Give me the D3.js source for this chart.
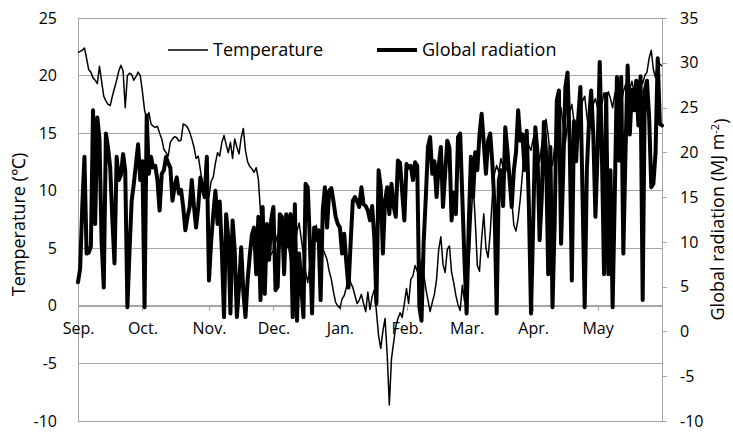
<!DOCTYPE html>
<html>
<head>
<meta charset="utf-8">
<script src="https://cdn.jsdelivr.net/npm/d3@7"></script>
<style>
  body { margin: 0; background: #fff; }
  text { font-family: "Open Sans", sans-serif; fill: #000; }
</style>
</head>
<body>
<svg id="chart" width="733" height="433"></svg>
<script>
// Daily series, 1 Sep – 31 May
const firstDay = new Date(2014, 8, 1);
const monthLabels = ["Sep.", "Oct.", "Nov.", "Dec.", "Jan.", "Feb.", "Mar.", "Apr.", "May"];
const tempTicks = [-10, -5, 0, 5, 10, 15, 20, 25];
const radTicks = [-10, -5, 0, 5, 10, 15, 20, 25, 30, 35];
const seriesNames = ["Temperature", "Global radiation"];

// Daily mean air temperature (°C)
const temperature = [
  22.0, 22.1, 22.2, 22.4, 21.5, 20.5, 20.3, 19.8, 19.6, 19.3, 20.8, 19.5, 18.2, 17.8, 17.5, 17.4, 18.2, 18.9, 19.6, 20.4, 20.9, 20.4, 17.2, 20.0, 20.2, 20.1, 19.6, 19.9, 20.3, 20.0,
  18.6, 17.0, 16.2, 16.8, 15.8, 15.6, 15.5, 15.6, 15.0, 14.5, 13.6, 13.3, 13.0, 14.2, 14.5, 14.7, 14.6, 14.3, 14.4, 15.8, 15.7, 15.5, 15.1, 14.5, 13.8, 12.8, 13.0, 11.8, 10.5, 9.8, 10.2,
  9.5, 10.8, 11.2, 12.4, 13.3, 13.0, 14.2, 14.8, 14.0, 13.3, 14.2, 12.8, 14.5, 13.8, 13.2, 14.6, 15.4, 13.5, 12.5, 12.1, 11.9, 11.6, 12.0, 11.0, 8.1, 6.7, 5.8, 4.6, 4.2, 4.5,
  4.8, 5.5, 6.2, 5.0, 6.8, 7.5, 6.0, 5.2, 4.0, 3.2, 5.0, 6.5, 7.2, 5.8, 4.5, 3.0, 2.0, 3.5, 5.2, 6.5, 7.0, 5.5, 4.2, 5.0, 4.5, 4.0, 3.0, 2.3, 1.2, 0.3, 0.0,
  -0.2, 0.6, 0.9, 1.6, 2.9, 2.0, 1.6, 0.9, 0.2, 0.5, 1.0, 0.2, -0.5, 1.2, -0.3, 0.8, 1.4, -0.5, -2.6, -3.7, -2.2, -1.1, -4.2, -8.6, -4.6, -3.2, -1.8, -1.1, -0.6, -1.0, 0.2,
  1.5, 0.2, 2.3, 2.6, 3.5, 3.0, 2.5, 4.0, 2.8, 1.5, 0.5, -0.5, 0.3, 1.0, 2.3, 4.9, 6.0, 3.6, 2.9, 4.9, 5.2, 2.9, 2.0, 0.9, 0.1, -0.4, 1.8, 0.4,
  2.3, 3.3, 7.0, 10.7, 7.5, 3.5, 3.0, 5.8, 8.0, 5.0, 4.2, 6.4, 9.5, 11.5, 12.2, 11.6, 12.8, 12.0, 11.5, 12.3, 11.0, 9.2, 7.0, 6.5, 7.6, 9.3, 11.5, 13.6, 14.6, 13.9, 13.5,
  14.5, 15.2, 13.8, 12.5, 14.0, 15.5, 16.2, 14.8, 13.0, 12.2, 13.8, 15.0, 16.5, 17.2, 15.6, 14.2, 15.8, 16.8, 17.5, 16.0, 14.5, 15.2, 16.8, 17.8, 18.2, 16.5, 15.0, 16.2, 17.5, 18.0,
  17.2, 18.0, 17.5, 18.5, 17.8, 18.6, 18.0, 17.2, 18.4, 19.0, 18.2, 17.5, 18.6, 19.2, 18.0, 18.8, 19.5, 18.6, 18.8, 19.1, 19.8, 19.3, 20.0, 20.3, 21.5, 22.2, 20.5, 19.8, 21.4, 21.0, 20.8
];

// Daily global radiation (MJ m-2)
const radiation = [
  5.5, 7.0, 14.0, 19.5, 8.7, 8.8, 9.5, 24.7, 12.0, 23.9, 21.5, 10.0, 4.9, 22.1, 20.5, 18.3, 12.5, 7.6, 19.5, 16.9, 17.5, 19.8, 18.0, 2.7, 9.0, 14.6, 16.5, 18.7, 20.9, 16.9,
  19.0, 2.7, 24.1, 17.6, 19.5, 18.3, 18.5, 16.9, 13.5, 17.6, 18.0, 19.5, 18.8, 18.3, 14.6, 16.2, 17.2, 15.4, 15.8, 13.9, 11.3, 12.8, 13.9, 16.9, 14.0, 11.6, 13.9, 17.2, 16.0, 15.0, 19.5,
  5.7, 10.0, 13.1, 15.7, 12.0, 14.5, 9.0, 1.6, 13.1, 10.5, 2.0, 12.4, 9.0, 1.6, 5.0, 9.4, 4.5, 1.6, 5.7, 8.5, 10.8, 11.6, 6.4, 12.8, 3.5, 13.9, 4.2, 12.0, 8.0, 12.5,
  13.9, 4.6, 5.0, 13.1, 12.8, 6.4, 13.1, 9.5, 13.1, 1.6, 14.2, 1.2, 8.7, 5.0, 1.6, 16.5, 16.1, 10.0, 2.0, 11.6, 10.2, 11.3, 3.5, 13.5, 16.1, 11.6, 15.7, 16.0, 14.5, 12.8, 12.0,
  11.6, 8.7, 10.9, 7.6, 4.9, 10.0, 14.6, 15.0, 14.5, 13.9, 16.1, 14.2, 14.0, 13.5, 12.4, 14.0, 10.5, 3.1, 18.0, 16.1, 8.7, 14.6, 16.1, 13.1, 16.5, 14.0, 12.8, 19.1, 18.8, 15.5, 12.4,
  18.7, 18.3, 18.5, 16.9, 18.9, 18.5, 2.7, 1.2, 10.0, 15.0, 20.6, 21.7, 17.6, 19.0, 15.0, 18.5, 20.6, 13.9, 17.6, 21.3, 20.5, 12.4, 15.5, 13.1, 21.7, 22.1, 15.0, 8.0,
  2.0, 12.0, 19.5, 15.0, 20.0, 18.0, 22.0, 24.3, 21.0, 17.6, 21.3, 22.1, 18.7, 14.0, 2.0, 16.9, 18.0, 14.0, 22.8, 20.2, 17.0, 13.9, 18.0, 20.0, 24.7, 21.3, 22.0, 18.0, 22.4, 14.0, 2.0,
  12.0, 22.8, 20.0, 10.2, 15.0, 23.4, 20.0, 6.4, 20.6, 2.7, 12.0, 25.8, 26.9, 9.8, 18.0, 27.3, 28.9, 21.3, 5.7, 23.5, 19.0, 23.9, 27.3, 15.0, 2.7, 18.0, 23.5, 26.9, 22.0, 12.8,
  20.0, 30.1, 20.0, 6.4, 26.5, 6.4, 18.0, 2.7, 15.0, 28.4, 19.1, 28.4, 8.7, 20.0, 29.7, 22.0, 27.0, 24.7, 28.0, 23.0, 28.5, 3.5, 26.9, 28.0, 24.0, 16.1, 16.5, 20.0, 30.5, 23.2, 23.0
];

const W = 733, H = 433;
const plot = { left: 78, right: 662, top: 18, bottom: 421 };
const gridColor = "#a6a6a6";
const tickFont = "16px";
const fmt = d => String(d);   // plain hyphen-minus for negative ticks

const dates = temperature.map((_, i) => d3.timeDay.offset(firstDay, i));
const rows = dates.map((d, i) => ({ date: d, t: temperature[i], r: radiation[i] }));

const x = d3.scaleTime().domain([dates[0], dates[dates.length - 1]]).range([plot.left, plot.right]);
const yT = d3.scaleLinear().domain([-10, 25]).range([plot.bottom, plot.top]);
const yR = d3.scaleLinear().domain([-10, 35]).range([plot.bottom, plot.top]);

const svg = d3.select("#chart");
svg.append("rect").attr("width", W).attr("height", H).attr("fill", "#fff");

// horizontal gridlines on the temperature scale
svg.append("g").selectAll("line").data(tempTicks).join("line")
  .attr("x1", plot.left).attr("x2", plot.right)
  .attr("y1", d => yT(d)).attr("y2", d => yT(d))
  .attr("stroke", gridColor).attr("stroke-width", 1)
  .attr("shape-rendering", "crispEdges");

// left axis (temperature)
const leftAxis = svg.append("g").attr("transform", `translate(${plot.left},0)`)
  .call(d3.axisLeft(yT).tickValues(tempTicks).tickSize(0).tickPadding(21).tickFormat(fmt));
leftAxis.select(".domain").attr("stroke", gridColor).attr("shape-rendering", "crispEdges");
leftAxis.selectAll("text").style("font-size", tickFont).style("font-family", "Open Sans");

// right axis (radiation)
const rightAxis = svg.append("g").attr("transform", `translate(${plot.right},0)`)
  .call(d3.axisRight(yR).tickValues(radTicks).tickSize(5).tickPadding(13).tickFormat(fmt));
rightAxis.select(".domain").attr("stroke", gridColor).attr("shape-rendering", "crispEdges");
rightAxis.selectAll(".tick line").attr("stroke", gridColor).attr("shape-rendering", "crispEdges");
rightAxis.selectAll("text").style("font-size", tickFont).style("font-family", "Open Sans");

// month axis along temperature zero
const monthStarts = d3.timeMonth.range(firstDay, d3.timeDay.offset(dates[dates.length - 1], 1));
const xAxis = svg.append("g").attr("transform", `translate(0,${yT(0)})`)
  .call(d3.axisBottom(x).tickValues(monthStarts).tickSize(5).tickPadding(12)
    .tickFormat((d, i) => monthLabels[i]));
xAxis.select(".domain").attr("stroke", gridColor).attr("shape-rendering", "crispEdges");
xAxis.selectAll(".tick line").attr("stroke", gridColor).attr("shape-rendering", "crispEdges");
xAxis.selectAll("text").style("font-size", tickFont).style("font-family", "Open Sans");

// series
const tempLine = d3.line().x(d => x(d.date)).y(d => yT(d.t));
const radLine = d3.line().x(d => x(d.date)).y(d => yR(d.r));

svg.append("path").datum(rows).attr("d", tempLine)
  .attr("fill", "none").attr("stroke", "#000").attr("stroke-width", 1.5)
  .attr("stroke-linejoin", "round");
svg.append("path").datum(rows).attr("d", radLine)
  .attr("fill", "none").attr("stroke", "#000").attr("stroke-width", 4)
  .attr("stroke-linejoin", "round").attr("stroke-linecap", "round");

// legend
const legend = svg.append("g");
const legendItems = [
  { name: seriesNames[0], x: 168, w: 1.5 },
  { name: seriesNames[1], x: 377, w: 4 }
];
legendItems.forEach(it => {
  legend.append("line").attr("x1", it.x).attr("x2", it.x + 40)
    .attr("y1", 50).attr("y2", 50).attr("stroke", "#000").attr("stroke-width", it.w);
  legend.append("text").attr("x", it.x + 45).attr("y", 50).attr("dy", "0.35em")
    .style("font-size", "18px").text(it.name);
});

// axis titles
svg.append("text")
  .attr("transform", `translate(19,${(plot.top + plot.bottom) / 2 + 5}) rotate(-90)`)
  .attr("text-anchor", "middle").attr("dy", "0.35em")
  .style("font-size", "18px").text("Temperature (℃)");

const rt = svg.append("text")
  .attr("transform", `translate(718,${(plot.top + plot.bottom) / 2}) rotate(-90)`)
  .attr("text-anchor", "middle").attr("dy", "0.35em")
  .style("font-size", "18px");
rt.append("tspan").text("Global radiation (MJ m");
rt.append("tspan").attr("dy", "-0.45em").style("font-size", "11px").text("-2");
rt.append("tspan").attr("dy", "0.45em").text(")");
</script>
</body>
</html>
